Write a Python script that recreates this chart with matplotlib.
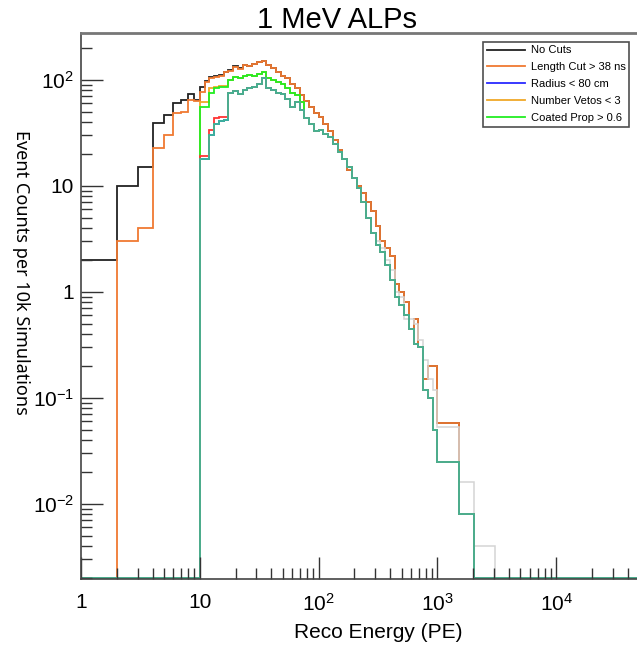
import numpy as np
import matplotlib
matplotlib.use("Agg")
import matplotlib.pyplot as plt
from matplotlib.ticker import LogLocator, NullFormatter

plt.rcParams['font.family'] = ['Liberation Sans', 'DejaVu Sans']
plt.rcParams['mathtext.fontset'] = 'custom'
plt.rcParams['mathtext.rm'] = 'Liberation Sans'
plt.rcParams['mathtext.default'] = 'regular'

# bin edges: integer bins up to 10, log bins to 1000, then a few wide tail bins
edges = np.concatenate([np.arange(1, 11), np.geomspace(10, 1000, 51)[1:], [1530, 2050, 3070, 1e5]])

# ---- values (counts per 10k simulations) ----
no_cuts_low = [2, 10, 15, 39, 47, 60, 65, 74, 65]
length_low = [0, 3, 4, 23, 30, 49, 50, 65, 63]
zero_low = [0] * 9

length_mid = [77, 96, 104, 107, 110, 118, 122, 133, 128, 138,
              136, 142, 148, 152, 138, 130, 118, 108, 104, 92,
              84, 72, 63, 55, 49, 45, 38, 33, 27, 22,
              18, 14, 12, 10, 8.5, 7, 5.8, 4.2, 3.0, 2.6,
              2.2, 1.2, 1.0, 0.8, 0.45, 0.55, 0.3, 0.15, 0.2, 0.2]
no_cuts_mid = [85, 98, 106, 110, 112, 120, 124, 135, 130, 138] + length_mid[10:]

final_mid = [18, 18, 30, 38, 41, 42, 76, 78, 74, 80,
             84, 86, 92, 104, 84, 80, 76, 74, 66, 56,
             62, 52, 44, 38, 33, 34, 31, 29, 25, 21,
             18, 15, 12, 9.5, 7, 5, 3.6, 2.8, 2.4, 1.8,
             1.3, 0.9, 0.75, 0.6, 0.45, 0.32, 0.3, 0.12, 0.1, 0.05]
coated_mid = [55, 55, 75, 84, 86, 86, 100, 107, 104, 108,
              112, 110, 114, 118, 104, 100, 96, 92, 84, 76,
              72, 62] + final_mid[22:]
vetos_mid = [62, 62, 84, 86, 88, 88] + coated_mid[6:]
red_mid = [19, 19, 34, 44, 45, 45] + final_mid[6:]

length_tail = [0.058, 0.008, 0, 0]
final_tail = [0.025, 0.008, 0, 0]

# light grey histogram, only seen in the high-energy tail (from bin 46 on)
gray_start = 46
gray_vals = [3.0, 2.6, 2.0, 1.6, 1.0, 0.9, 0.55, 0.55, 0.5, 0.35, 0.23, 0.15, 0.12,
             0.053, 0.016, 0.004, 0]

no_cuts = np.array(no_cuts_low + no_cuts_mid + length_tail, dtype=float)
length_cut = np.array(length_low + length_mid + length_tail, dtype=float)
radius = np.array(zero_low + final_mid + final_tail, dtype=float)
vetos = np.array(zero_low + vetos_mid + final_tail, dtype=float)
coated = np.array(zero_low + coated_mid + final_tail, dtype=float)
red_h = np.array(zero_low + red_mid + final_tail, dtype=float)
final = np.array(zero_low + final_mid + final_tail, dtype=float)
gray_h = np.array(gray_vals, dtype=float)

ymin, ymax = 0.00196, 277

fig = plt.figure(figsize=(6.37, 6.48), dpi=100)
ax = fig.add_axes([81/637, 1 - 579/648, 594/637, 546/648])


def floor(v):
    return np.where(v > 0, v, ymin * 1.03)


lw = 1.3
h0 = ax.stairs(floor(no_cuts), edges, baseline=None, color="#222222", lw=lw, label="No Cuts")
h1 = ax.stairs(floor(length_cut), edges, baseline=None, color="#f07a32", lw=lw, label="Length Cut > 38 ns")
ax.stairs(floor(gray_h), edges[gray_start:], baseline=None, color="#d4d4d4", lw=1.1)
h2 = ax.stairs(floor(radius), edges, baseline=None, color="#2a2aff", lw=lw, label="Radius < 80 cm")
h3 = ax.stairs(floor(vetos), edges, baseline=None, color="#f0a828", lw=lw, label="Number Vetos < 3")
h4 = ax.stairs(floor(coated), edges, baseline=None, color="#22ee22", lw=lw, label="Coated Prop > 0.6")
ax.stairs(floor(red_h), edges, baseline=None, color="#ff3434", lw=lw)
ax.stairs(floor(final), edges, baseline=None, color="#3cb896", lw=lw)

ax.set_xscale("log")
ax.set_yscale("log")
ax.set_xlim(1, 1e5)
ax.set_ylim(ymin, ymax)

ax.set_xticks([1, 10, 100, 1000, 10000], ["1", "10", "$10^2$", "$10^3$", "$10^4$"])
ax.set_yticks([0.01, 0.1, 1, 10, 100], ["$10^{-2}$", "$10^{-1}$", "1", "10", "$10^2$"])
ax.xaxis.set_minor_locator(LogLocator(base=10, subs=np.arange(2, 10), numticks=20))
ax.yaxis.set_minor_locator(LogLocator(base=10, subs=np.arange(2, 10), numticks=20))
ax.xaxis.set_minor_formatter(NullFormatter())
ax.yaxis.set_minor_formatter(NullFormatter())
ax.tick_params(which="major", direction="in", length=16, width=1, color="#333333", labelsize=15)
ax.tick_params(which="minor", direction="in", length=8, width=1, color="#333333")
ax.tick_params(axis="x", which="major", pad=10)
ax.tick_params(axis="y", which="major", pad=5)
ax.tick_params(top=False, right=False)

for s in ["left", "bottom"]:
    ax.spines[s].set_color("#444444")
    ax.spines[s].set_linewidth(1.2)
ax.spines["top"].set_color("#777777")
ax.spines["top"].set_linewidth(2)
ax.spines["right"].set_visible(False)

ax.set_xlabel("Reco Energy (PE)", fontsize=15, labelpad=6)
fig.text(0.033, 1 - 272/648, "Event Counts per 10k Simulations", rotation=-90,
         ha="center", va="center", fontsize=13, family=["Noto Sans", "DejaVu Sans"])
fig.text(337/637, 1 - 20/648, "1 MeV ALPs", ha="center", va="center", fontsize=21)

leg = fig.legend(handles=[h0, h1, h2, h3, h4], loc="upper right",
                 bbox_to_anchor=(635/637, 1 - 36/648), fontsize=8, frameon=True,
                 fancybox=False, handlelength=3.4, borderpad=0.35, labelspacing=0.62,
                 handletextpad=0.5)
leg.get_frame().set_edgecolor("#222222")
leg.get_frame().set_linewidth(1.2)

fig.savefig("out.png", dpi=100)
